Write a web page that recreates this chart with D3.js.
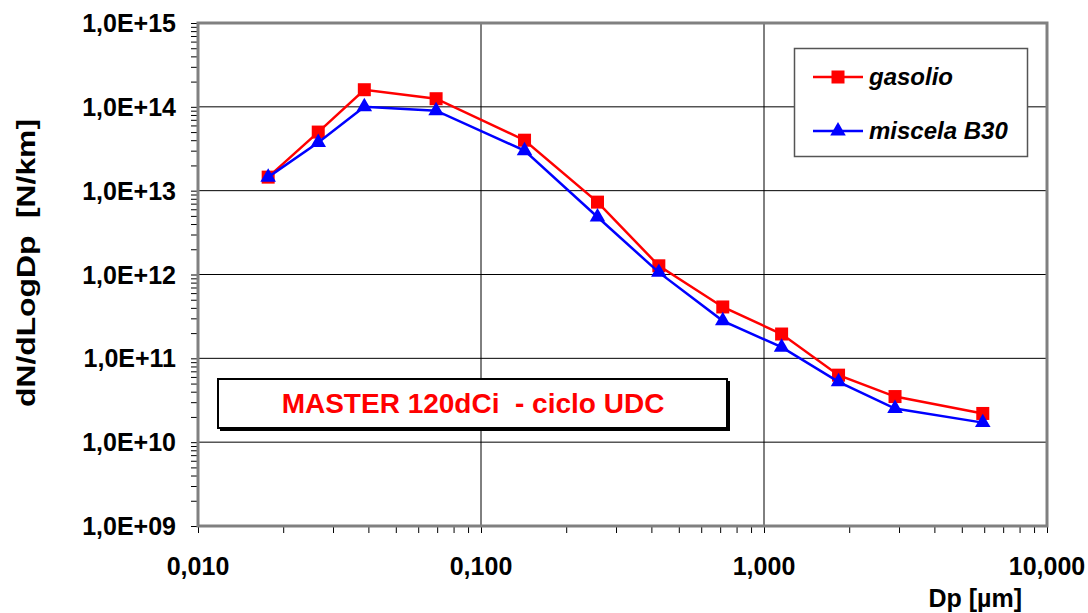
<!DOCTYPE html>
<html>
<head>
<meta charset="utf-8">
<script src="https://cdn.jsdelivr.net/npm/d3@7"></script>
<style>
  body { margin: 0; background: #fff; }
  svg text { font-family: Arial, "Liberation Sans", sans-serif; font-weight: bold; }
</style>
</head>
<body>
<div id="chart"></div>
<script>
// particle diameter (um) and dN/dLogDp (N/km)
var dp = [0.0177, 0.0266, 0.0387, 0.0694, 0.1425, 0.258, 0.425, 0.715, 1.154, 1.834, 2.904, 5.93];
var gasolio = [1.45e13, 5.0e13, 1.6e14, 1.25e14, 4.0e13, 7.3e12, 1.27e12, 4.1e11, 1.95e11, 6.3e10, 3.5e10, 2.2e10];
var miscelaB30 = [1.45e13, 3.75e13, 1.0e14, 9.0e13, 3.0e13, 4.85e12, 1.06e12, 2.8e11, 1.36e11, 5.25e10, 2.52e10, 1.71e10];
var xTicks = [0.01, 0.1, 1, 10];
var xTickLabels = ["0,010", "0,100", "1,000", "10,000"];
var yTicks = [1e9, 1e10, 1e11, 1e12, 1e13, 1e14, 1e15];
var yTickLabels = ["1,0E+09", "1,0E+10", "1,0E+11", "1,0E+12", "1,0E+13", "1,0E+14", "1,0E+15"];
var seriesNames = ["gasolio", "miscela B30"];
var seriesColors = ["#ff0000", "#0000ff"];

var W = 1088, H = 613;
var margin = { top: 23, right: 41, bottom: 87, left: 198 };
var width = W - margin.left - margin.right,
  height = H - margin.top - margin.bottom;

var svg = d3.select("#chart").append("svg")
  .attr("width", W)
  .attr("height", H);

var x = d3.scaleLog().domain([0.01, 10]).range([0, width]);
var y = d3.scaleLog().domain([1e9, 1e15]).range([height, 0]);

var g = svg.append("g")
  .attr("transform", "translate(" + margin.left + "," + margin.top + ")");

// minor ticks (2..9 in every decade)
function minors(lo, hi) {
  var out = [];
  for (var e = lo; e < hi; e++) {
    for (var k = 1; k < 10; k++) out.push(k * Math.pow(10, e));
  }
  out.push(Math.pow(10, hi));
  return out;
}

// grid lines at decades
g.selectAll(".hgrid").data(yTicks.slice(1, -1)).enter().append("line")
  .attr("x1", 0).attr("x2", width)
  .attr("y1", function (d) { return y(d); })
  .attr("y2", function (d) { return y(d); })
  .attr("stroke", "#000").attr("stroke-width", 1);
g.selectAll(".vgrid").data(xTicks.slice(1, -1)).enter().append("line")
  .attr("y1", 0).attr("y2", height)
  .attr("x1", function (d) { return x(d); })
  .attr("x2", function (d) { return x(d); })
  .attr("stroke", "#000").attr("stroke-width", 1);

// axes with minor ticks
var yAxis = d3.axisLeft(y).tickValues(minors(9, 15)).tickSize(7).tickFormat("");
var xAxis = d3.axisBottom(x).tickValues(minors(-2, 1)).tickSize(7).tickFormat("");
var ya = g.append("g").call(yAxis);
var xa = g.append("g").attr("transform", "translate(0," + height + ")").call(xAxis);
[ya, xa].forEach(function (a) {
  a.select(".domain").remove();
  a.selectAll("line").attr("stroke", "#000").attr("stroke-width", 1);
});

// plot frame
g.append("rect")
  .attr("x", 0).attr("y", 0)
  .attr("width", width).attr("height", height)
  .attr("fill", "none")
  .attr("stroke", "#808080")
  .attr("stroke-width", 3);

// tick labels
g.selectAll(".ylab").data(yTicks).enter().append("text")
  .attr("x", -22)
  .attr("y", function (d) { return y(d) + 9; })
  .attr("text-anchor", "end")
  .style("font-size", "25px")
  .text(function (d, i) { return yTickLabels[i]; });
g.selectAll(".xlab").data(xTicks).enter().append("text")
  .attr("x", function (d) { return x(d); })
  .attr("y", height + 49)
  .attr("text-anchor", "middle")
  .style("font-size", "25px")
  .text(function (d, i) { return xTickLabels[i]; });

// axis titles
svg.append("text")
  .attr("transform", "translate(35,263) rotate(-90)")
  .attr("text-anchor", "middle")
  .attr("textLength", 288)
  .attr("lengthAdjust", "spacingAndGlyphs")
  .style("font-size", "26px")
  .style("white-space", "pre")
  .text("dN/dLogDp  [N/km]");
svg.append("text")
  .attr("x", 1022).attr("y", 607)
  .attr("text-anchor", "end")
  .style("font-size", "25px")
  .text("Dp [\u00b5m]");

// series
var seriesData = [gasolio, miscelaB30];
var line = d3.line()
  .x(function (d) { return x(d[0]); })
  .y(function (d) { return y(d[1]); });

function drawMarker(sel, i, size) {
  if (i == 0) {
    sel.append("rect")
      .attr("x", -size / 2).attr("y", -size / 2)
      .attr("width", size).attr("height", size)
      .attr("fill", seriesColors[i]);
  } else {
    sel.append("path")
      .attr("d", d3.symbol().type(d3.symbolTriangle).size(size * size * 0.62)())
      .attr("fill", seriesColors[i]);
  }
}

seriesData.forEach(function (vals, i) {
  var pts = dp.map(function (d, j) { return [d, vals[j]]; });
  g.append("path")
    .datum(pts)
    .attr("d", line)
    .attr("fill", "none")
    .attr("stroke", seriesColors[i])
    .attr("stroke-width", 2.5);
  g.selectAll(".m" + i).data(pts).enter().append("g")
    .attr("transform", function (d) { return "translate(" + x(d[0]) + "," + y(d[1]) + ")"; })
    .each(function () { drawMarker(d3.select(this), i, 13); });
});

// legend
var leg = svg.append("g");
leg.append("rect")
  .attr("x", 794.5).attr("y", 48.5)
  .attr("width", 233).attr("height", 108)
  .attr("fill", "#fff")
  .attr("stroke", "#555").attr("stroke-width", 1.5);
seriesNames.forEach(function (name, i) {
  var ry = 77 + i * 54;
  leg.append("line")
    .attr("x1", 813).attr("x2", 863)
    .attr("y1", ry).attr("y2", ry)
    .attr("stroke", seriesColors[i]).attr("stroke-width", 2.5);
  var mk = leg.append("g").attr("transform", "translate(838," + ry + ")");
  drawMarker(mk, i, 13);
  leg.append("text")
    .attr("x", 869).attr("y", ry + 8)
    .style("font-size", "24px")
    .style("font-style", "italic")
    .text(name);
});

// title box
svg.append("rect")
  .attr("x", 220).attr("y", 381)
  .attr("width", 510).attr("height", 50)
  .attr("fill", "#000");
svg.append("rect")
  .attr("x", 218).attr("y", 379)
  .attr("width", 509).attr("height", 49)
  .attr("fill", "#fff")
  .attr("stroke", "#000").attr("stroke-width", 2);
svg.append("text")
  .attr("x", 473).attr("y", 413)
  .attr("text-anchor", "middle")
  .attr("fill", "#ff0000")
  .style("font-size", "28px")
  .style("white-space", "pre")
  .text("MASTER 120dCi  - ciclo UDC");
</script>
</body>
</html>
